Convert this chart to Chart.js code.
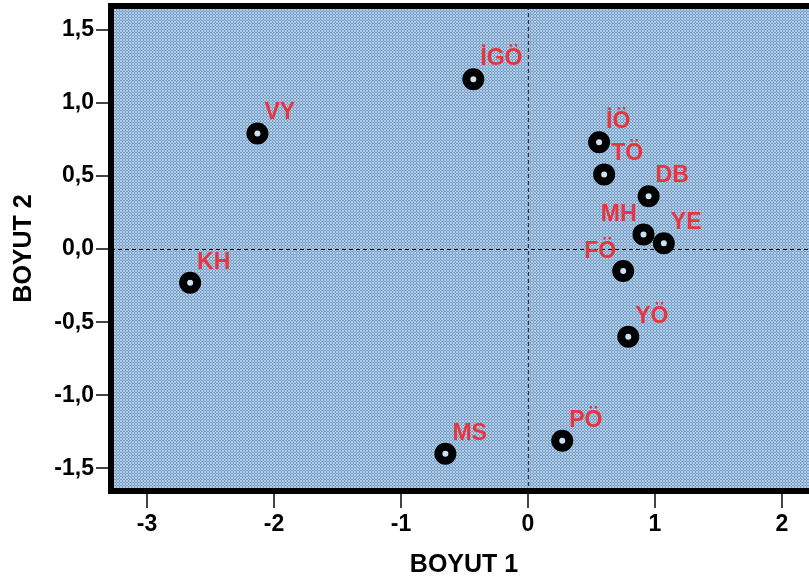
<!DOCTYPE html>
<html>
<head>
<meta charset="utf-8">
<script src="https://cdn.jsdelivr.net/npm/chart.js@4"></script>
<style>
  html, body { margin: 0; padding: 0; background: #fff; overflow: hidden; }
</style>
</head>
<body>
<canvas id="graph1" width="817" height="585"></canvas>
<script>
// data
var etiketler = ['İGÖ', 'VY', 'KH', 'İÖ', 'TÖ', 'DB', 'MH', 'YE', 'FÖ', 'YÖ', 'PÖ', 'MS'];
var boyut1 = [-0.43, -2.13, -2.66, 0.56, 0.60, 0.95, 0.91, 1.07, 0.75, 0.79, 0.27, -0.65];
var boyut2 = [1.16, 0.79, -0.23, 0.73, 0.51, 0.36, 0.10, 0.04, -0.15, -0.60, -1.31, -1.40];
var xTicks = [-3, -2, -1, 0, 1, 2];
var yTicks = [-1.5, -1.0, -0.5, 0.0, 0.5, 1.0, 1.5];

// labels drawn on the left side of the point
var solEtiketler = ['MH', 'FÖ'];

var fontAile = '"Liberation Sans", Arial, sans-serif';

var noktalar = boyut1.map(function(x, i) {
    return { x: x, y: boyut2[i] };
});

// dotted blue background
function desen(ctx) {
    var c = document.createElement('canvas');
    c.width = 3;
    c.height = 3;
    var p = c.getContext('2d');
    p.fillStyle = '#a9cdef';
    p.fillRect(0, 0, 3, 3);
    p.fillStyle = '#7f9cba';
    p.fillRect(2, 0, 1, 2);
    p.fillRect(0, 2, 2, 1);
    return ctx.createPattern(c, 'repeat');
}

var arkaPlan = {
    id: 'arkaPlan',
    beforeDatasetsDraw: function(chart) {
        var ctx = chart.ctx;
        var a = chart.chartArea;
        var xs = chart.scales.x;
        var ys = chart.scales.y;
        ctx.save();
        ctx.fillStyle = desen(ctx);
        ctx.fillRect(a.left, a.top, a.right - a.left, a.bottom - a.top);

        // zero lines
        ctx.lineWidth = 1.2;
        ctx.setLineDash([4, 3]);
        ctx.strokeStyle = '#333';
        var x0 = Math.round(xs.getPixelForValue(0)) + 0.5;
        ctx.beginPath();
        ctx.moveTo(x0, a.top);
        ctx.lineTo(x0, a.bottom);
        ctx.stroke();
        ctx.strokeStyle = '#000';
        var y0 = Math.round(ys.getPixelForValue(0)) + 0.5;
        ctx.beginPath();
        ctx.moveTo(a.left, y0);
        ctx.lineTo(a.right, y0);
        ctx.stroke();
        ctx.setLineDash([]);

        // frame
        ctx.lineWidth = 6;
        ctx.strokeStyle = '#000';
        ctx.beginPath();
        ctx.moveTo(a.right + 5, a.top);
        ctx.lineTo(a.left, a.top);
        ctx.lineTo(a.left, a.bottom);
        ctx.lineTo(a.right + 5, a.bottom);
        ctx.stroke();
        ctx.restore();
    }
};

var noktaEtiket = {
    id: 'noktaEtiket',
    afterDatasetsDraw: function(chart) {
        var ctx = chart.ctx;
        var meta = chart.getDatasetMeta(0);
        ctx.save();
        ctx.font = 'bold 23px ' + fontAile;
        ctx.fillStyle = '#e8353d';
        ctx.textBaseline = 'alphabetic';
        meta.data.forEach(function(el, i) {
            var ad = etiketler[i];
            if (solEtiketler.indexOf(ad) >= 0) {
                ctx.textAlign = 'right';
                ctx.fillText(ad, el.x - 7, el.y - 13);
            } else {
                ctx.textAlign = 'left';
                ctx.fillText(ad, el.x + 7, el.y - 14);
            }
        });
        ctx.restore();
    }
};

var ctx = document.getElementById('graph1').getContext('2d');

var data = {
    datasets: [
        {
            label: 'Boyut',
            data: noktalar,
            pointRadius: 7,
            pointHoverRadius: 7,
            borderWidth: 8,
            pointBorderWidth: 8,
            pointBorderColor: '#000',
            pointBackgroundColor: '#cfe2f3'
        }
    ]
};

var options = {
    responsive: false,
    animation: false,
    events: [],
    layout: { autoPadding: false, padding: { top: 6, right: 0, left: 0, bottom: 0 } },
    plugins: {
        legend: { display: false },
        tooltip: { enabled: false }
    },
    scales: {
        x: {
            type: 'linear',
            min: -3.283,
            max: 2.276,
            afterFit: function(s) {
                s.height = 94;
                s.paddingLeft = 0;
                s.paddingRight = 0;
            },
            afterBuildTicks: function(s) {
                s.ticks = xTicks.map(function(v) { return { value: v }; });
            },
            border: { display: false },
            grid: { drawOnChartArea: false, drawTicks: true, tickLength: 17, color: '#444', lineWidth: 2 },
            ticks: {
                padding: 3,
                color: '#000',
                font: { family: fontAile, size: 23, weight: 'bold' },
                callback: function(v) { return String(v); }
            },
            title: {
                display: true,
                text: 'BOYUT 1',
                color: '#000',
                font: { family: fontAile, size: 25, weight: 'bold' },
                padding: { top: 0, bottom: 5 }
            }
        },
        y: {
            type: 'linear',
            min: -1.654,
            max: 1.661,
            afterFit: function(s) {
                s.width = 111;
                s.paddingTop = 0;
                s.paddingBottom = 0;
            },
            afterBuildTicks: function(s) {
                s.ticks = yTicks.map(function(v) { return { value: v }; });
            },
            border: { display: false },
            grid: { drawOnChartArea: false, drawTicks: true, tickLength: 15, color: '#444', lineWidth: 2 },
            ticks: {
                padding: 2,
                color: '#000',
                font: { family: fontAile, size: 23, weight: 'bold' },
                callback: function(v) { return v.toFixed(1).replace('.', ','); }
            },
            title: {
                display: true,
                text: 'BOYUT 2',
                color: '#000',
                font: { family: fontAile, size: 25, weight: 'bold' },
                padding: { top: 9, bottom: 0 }
            }
        }
    }
};

var config = {
    type: 'scatter',
    data: data,
    options: options,
    plugins: [arkaPlan, noktaEtiket]
};

var graph1 = new Chart(ctx, config);
</script>
</body>
</html>
